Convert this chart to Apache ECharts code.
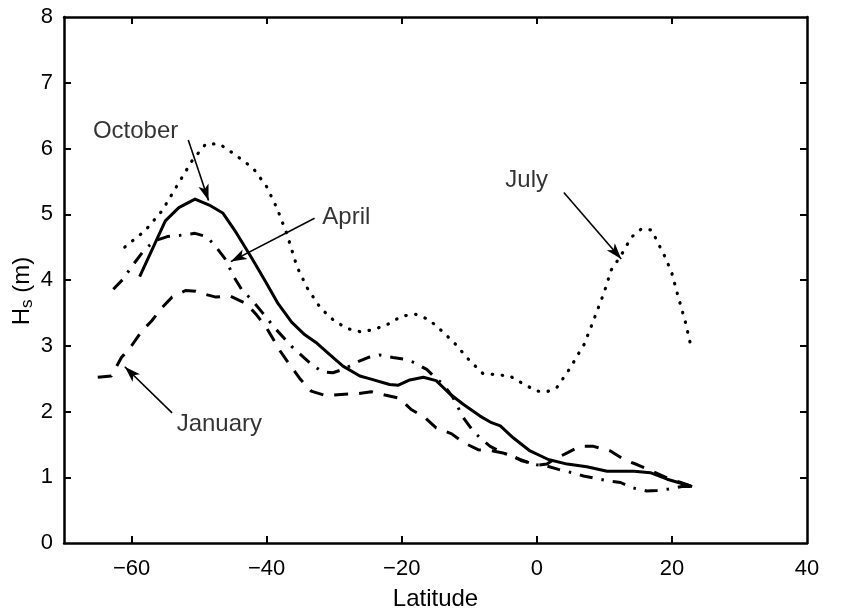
<!DOCTYPE html>
<html><head><meta charset="utf-8">
<script src="https://cdn.jsdelivr.net/npm/echarts@6/dist/echarts.min.js"></script>
<style>html,body{margin:0;padding:0;background:#fff}#c{width:851px;height:609px}</style>
</head><body><div id="c"></div>
<script>
// ---- data ----
const xTickValues = [-60, -40, -20, 0, 20, 40];
const yTickValues = [0, 1, 2, 3, 4, 5, 6, 7, 8];

const october = [[-58.8,4.05],[-56.7,4.52],[-55,4.9],[-53,5.1],[-50.6,5.23],[-48.5,5.14],[-46.5,5.02],[-44.5,4.72],[-42.3,4.35],[-40.3,4.0],[-38.3,3.64],[-36.3,3.36],[-34.5,3.18],[-32.7,3.05],[-30.7,2.87],[-28.7,2.69],[-26.2,2.54],[-24.8,2.5],[-21.8,2.41],[-20.5,2.4],[-18.8,2.48],[-16.8,2.52],[-14.9,2.47],[-12.9,2.27],[-10.9,2.11],[-8.4,1.93],[-6.7,1.83],[-5.4,1.78],[-3.5,1.6],[-1,1.4],[1.7,1.27],[4.5,1.2],[7.4,1.16],[10.4,1.09],[14.4,1.09],[16.8,1.07],[19.3,0.97],[23,0.86]];

const april = [[-62.7,3.86],[-61,4.04],[-60.3,4.16],[-58.1,4.46],[-56.5,4.6],[-54.7,4.66],[-52.8,4.68],[-50.6,4.71],[-48.9,4.66],[-47.7,4.53],[-46.2,4.33],[-44.8,4.04],[-43.6,3.84],[-42.3,3.71],[-40.6,3.5],[-38.7,3.26],[-36.3,2.99],[-34.8,2.85],[-33.4,2.72],[-31.7,2.6],[-30.2,2.59],[-28.7,2.64],[-26.2,2.77],[-25,2.82],[-23.3,2.86],[-21.3,2.82],[-19.8,2.8],[-18.3,2.75],[-16.3,2.64],[-15.1,2.52],[-13.9,2.42],[-12.4,2.21],[-11.4,2.01],[-10.9,1.91],[-9.4,1.7],[-8.2,1.58],[-6.9,1.47],[-5,1.37],[-3.5,1.32],[-2.2,1.25],[0,1.19],[1.5,1.17],[3.2,1.12],[5.2,1.07],[6.9,1.02],[8.4,0.99],[10.9,0.94],[12.4,0.92],[14.1,0.84],[16.3,0.79],[17.8,0.8],[19.5,0.82],[21.5,0.86],[23,0.86]];

const january = [[-65,2.52],[-63,2.54],[-61.5,2.82],[-60,3.0],[-58.5,3.22],[-57,3.38],[-55.5,3.58],[-54,3.74],[-52,3.84],[-50.5,3.83],[-49,3.78],[-47.5,3.74],[-45.5,3.76],[-43,3.64],[-41.5,3.47],[-40,3.27],[-38,2.92],[-36.5,2.7],[-35,2.49],[-33.4,2.31],[-31.2,2.24],[-29,2.26],[-26.7,2.27],[-24.5,2.3],[-22.5,2.25],[-20.3,2.2],[-18.6,2.03],[-16.6,1.91],[-14.9,1.75],[-12.6,1.66],[-10.9,1.53],[-8.7,1.42],[-6.5,1.4],[-5,1.37],[-2.5,1.27],[0,1.18],[1.5,1.2],[2.5,1.27],[4.5,1.37],[6.4,1.47],[8.4,1.47],[10.9,1.4],[12.9,1.27],[14.9,1.19],[17.1,1.09],[19.3,0.99],[21.3,0.92],[23,0.86]];

const july = [[-61,4.5],[-58,4.75],[-55.5,5.05],[-53,5.48],[-51,5.82],[-49,6.07],[-47,6.07],[-45,5.93],[-42,5.7],[-40,5.42],[-38.5,5.1],[-37,4.7],[-35.5,4.2],[-34,3.88],[-32,3.57],[-30,3.38],[-28,3.26],[-26,3.21],[-24,3.25],[-22,3.33],[-20,3.45],[-18,3.48],[-16,3.4],[-14,3.22],[-12,3.02],[-10,2.78],[-8,2.58],[-6,2.56],[-4,2.54],[-2,2.42],[0,2.31],[1.5,2.3],[3,2.37],[4,2.52],[5,2.67],[6,2.85],[7,3.02],[8,3.28],[9,3.55],[10,3.82],[11,4.15],[12.5,4.38],[14,4.65],[15.5,4.78],[17,4.76],[18,4.55],[19,4.35],[20,4.1],[21,3.72],[22,3.36],[22.8,3.0]];

// annotation texts and arrows, in data coordinates
const labelNames = ['October', 'April', 'July', 'January'];
const labelAt = [[-59.4, 6.26], [-28.2, 4.95], [-1.5, 5.51], [-47, 1.8]];
const arrowFrom = [[-51.6, 6.13], [-32.9, 4.94], [4.0, 5.33], [-54, 1.98]];
const arrowTo = [[-48.6, 5.21], [-45.3, 4.28], [12.5, 4.32], [-61, 2.68]];

// ---- chart ----
const FONT = '"Liberation Sans", Arial, Helvetica, sans-serif';
const chart = echarts.init(document.getElementById('c'), null, {renderer: 'canvas'});
const minus = v => String(v).replace('-', '\u2212');

const axisLineStyle = {color: '#000', width: 2.5};
const option = {
  animation: false,
  backgroundColor: '#fff',
  grid: {left: 64, right: 44, top: 17, bottom: 66, containLabel: false, outerBoundsMode: 'none'},
  xAxis: [{
    type: 'value', min: -70, max: 40, position: 'bottom',
    axisLine: {show: true, onZero: false, lineStyle: axisLineStyle},
    axisTick: {show: true, inside: true, length: 7, lineStyle: {color: '#000', width: 2}, customValues: xTickValues.slice(0, -1)},
    axisLabel: {show: true, margin: 15, color: '#000', fontSize: 22, fontFamily: FONT, customValues: xTickValues, formatter: minus},
    splitLine: {show: false},
    name: 'Latitude', nameLocation: 'middle', nameGap: 44, nameMoveOverlap: false,
    nameTextStyle: {color: '#000', fontSize: 24, fontFamily: FONT}
  }, {
    type: 'value', min: -70, max: 40, position: 'top',
    axisLine: {show: true, onZero: false, lineStyle: axisLineStyle},
    axisTick: {show: true, inside: true, length: 7, lineStyle: {color: '#000', width: 2}, customValues: xTickValues.slice(0, -1)},
    axisLabel: {show: false}, splitLine: {show: false}
  }],
  yAxis: [{
    type: 'value', min: 0, max: 8, interval: 1, position: 'left',
    axisLine: {show: true, onZero: false, lineStyle: axisLineStyle},
    axisTick: {show: true, inside: true, length: 7, lineStyle: {color: '#000', width: 2}, customValues: yTickValues.slice(1, -1)},
    axisLabel: {show: true, margin: 11, color: '#000', fontSize: 22, fontFamily: FONT, customValues: yTickValues, padding: [5, 0, 0, 0]},
    splitLine: {show: false},
    name: '{a|H}{b|s}{a| (m)}', nameLocation: 'middle', nameGap: 28, nameRotate: 90, nameMoveOverlap: false,
    nameTextStyle: {
      padding: [0, 22, 0, 0],
      rich: {
        a: {fontSize: 24, color: '#000', fontFamily: FONT, lineHeight: 28},
        b: {fontSize: 17, color: '#000', fontFamily: FONT, lineHeight: 12, verticalAlign: 'bottom'}
      }
    }
  }, {
    type: 'value', min: 0, max: 8, interval: 1, position: 'right',
    axisLine: {show: true, onZero: false, lineStyle: axisLineStyle},
    axisTick: {show: true, inside: true, length: 7, lineStyle: {color: '#000', width: 2}, customValues: yTickValues.slice(1, -1)},
    axisLabel: {show: false}, splitLine: {show: false}
  }],
  series: [
    {name: 'October', type: 'line', data: october, showSymbol: false, symbol: 'none', silent: true,
     lineStyle: {color: '#000', width: 3, type: 'solid', join: 'round'}},
    {name: 'April', type: 'line', data: april, showSymbol: false, symbol: 'none', silent: true,
     lineStyle: {color: '#000', width: 3, type: [13, 9, 2.5, 9], cap: 'butt'}},
    {name: 'January', type: 'line', data: january, showSymbol: false, symbol: 'none', silent: true,
     lineStyle: {color: '#000', width: 3, type: [14, 11], cap: 'butt'}},
    {name: 'July', type: 'line', data: july, showSymbol: false, symbol: 'none', silent: true,
     lineStyle: {color: '#000', width: 3.2, type: [0.5, 9.5], cap: 'round'}},
    {name: 'labels', type: 'scatter', silent: true, symbolSize: 0,
     data: labelNames.map((n, i) => ({name: n, value: labelAt[i]})),
     label: {show: true, position: 'inside', formatter: '{b}', color: '#000', fontSize: 24, fontFamily: FONT},
     markLine: {
       silent: true, animation: false,
       symbol: ['none', 'arrow'], symbolSize: [0, 15],
       label: {show: false},
       lineStyle: {color: '#000', width: 1.6, type: 'solid'},
       emphasis: {disabled: true},
       data: arrowFrom.map((f, i) => [{coord: f}, {coord: arrowTo[i], symbolSize: [8, 16]}])
     }}
  ]
};
chart.setOption(option);
</script></body></html>
